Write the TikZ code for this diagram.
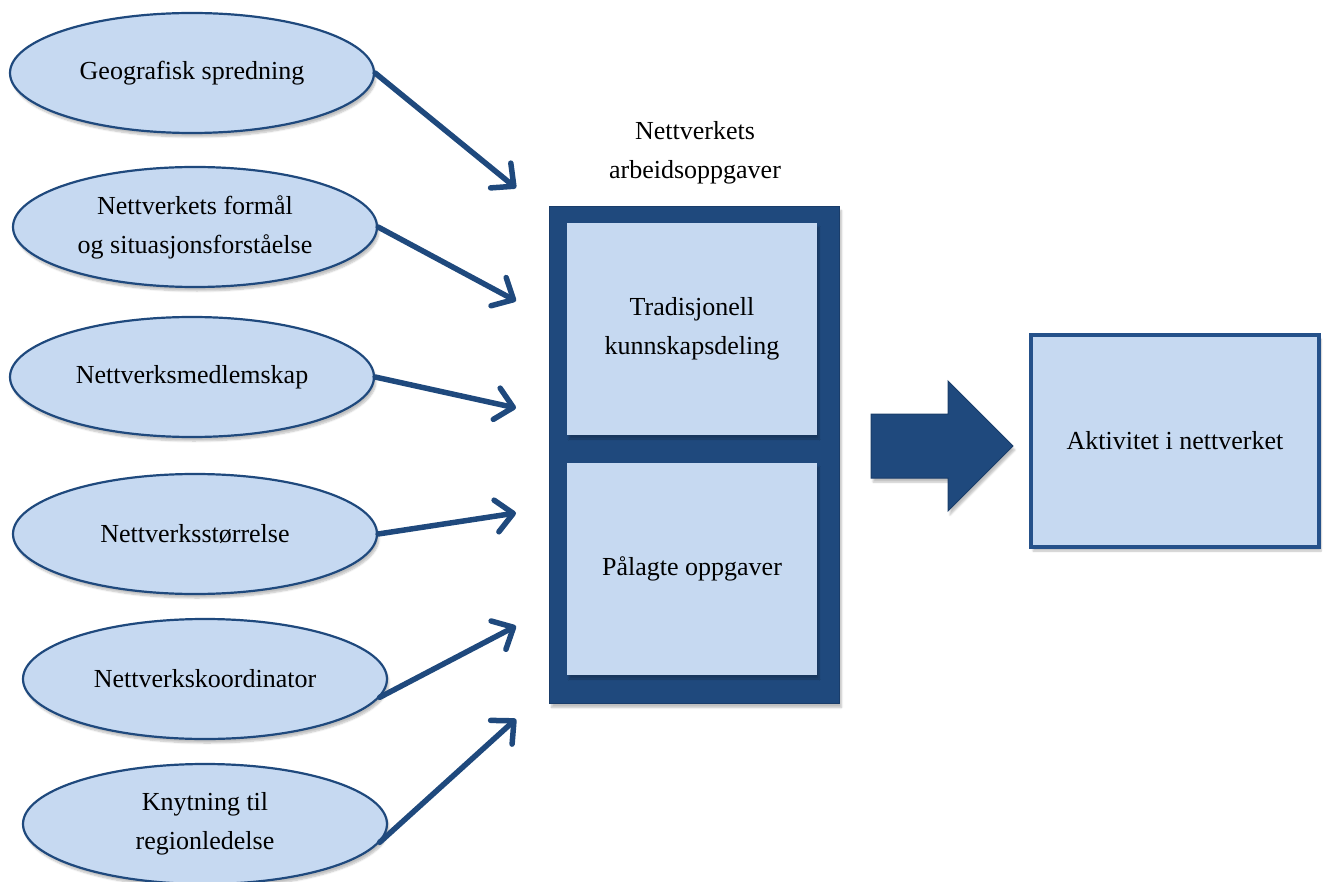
\documentclass[tikz,border=0pt]{standalone}
\usepackage{fontspec}
\setmainfont{Liberation Serif}
\usetikzlibrary{shapes.geometric,arrows.meta,shadows.blur}

\definecolor{lightfill}{HTML}{C6D9F1}
\definecolor{darkblue}{HTML}{1F497D}
\definecolor{edgeblue}{HTML}{1A3D6A}
\definecolor{framedge}{HTML}{25518A}

\tikzset{
  soft/.style={blur shadow={shadow xshift=2pt, shadow yshift=-4pt, shadow opacity=25, shadow blur steps=6}},
  factor/.style={ellipse, draw=darkblue, line width=2.2pt, fill=lightfill, inner sep=0pt,
    minimum width=364pt, minimum height=120pt, align=center, soft},
  task/.style={rectangle, fill=lightfill, draw=none, inner sep=0pt,
    minimum width=250pt, minimum height=212pt, align=center, soft},
  feed/.style={draw=darkblue, line width=5.5pt, line cap=round,
    -{Straight Barb[length=17pt, width=32pt, line width=5.5pt, line cap=round, line join=round]}},
  txt/.style={font=\fontsize{26}{39}\selectfont}
}

\begin{document}
\begin{tikzpicture}[x=1pt, y=-1pt, every node/.style={txt}]
\useasboundingbox (0,0) rectangle (1327,882);

% influencing factors
\node[factor] (e1) at (192,73)  {Geografisk spredning};
\node[factor] (e2) at (195,227) {Nettverkets formål\\og situasjonsforståelse};
\node[factor] (e3) at (192,377) {Nettverksmedlemskap};
\node[factor] (e4) at (195,534) {Nettverksstørrelse};
\node[factor] (e5) at (205,679) {Nettverkskoordinator};
\node[factor] (e6) at (205,824) {Knytning til\\regionledelse};

% arrow ends in front of the task block
\coordinate (t1) at (516,188);
\coordinate (t2) at (516,301);
\coordinate (t3) at (516,408);
\coordinate (t4) at (516,513);
\coordinate (t5) at (516,626);
\coordinate (t6) at (516,719);

\draw[feed] (e1.east) -- (t1);
\draw[feed] (e2.east) -- (t2);
\draw[feed] (e3.east) -- (t3);
\draw[feed] (e4.east) -- (t4);
\draw[feed] (e5.-6) -- (t5);
\draw[feed] (e6.-6) -- (t6);

% task block
\node (title) at (695,153) [align=center] {Nettverkets\\arbeidsoppgaver};
\node[rectangle, fill=darkblue, draw=edgeblue, line width=1.5pt, minimum width=290pt,
      minimum height=497pt, inner sep=0pt, soft] (block) at (694.5,455) {};
\node[task] (k1) at (692,329) {Tradisjonell\\kunnskapsdeling};
\node[task] (k2) at (692,569) {Pålagte oppgaver};

% result
\node[rectangle, fill=lightfill, draw=framedge, line width=4pt, minimum width=288pt,
      minimum height=212pt, inner sep=0pt, soft] (act) at (1175,441) {Aktivitet i nettverket};

% block arrow towards the result
\draw[fill=darkblue, draw=edgeblue, line width=1pt, soft]
  (871,414) -- (948,414) -- (948,381) -- (1013,446) -- (948,511) -- (948,478) -- (871,478) -- cycle;
\end{tikzpicture}
\end{document}
